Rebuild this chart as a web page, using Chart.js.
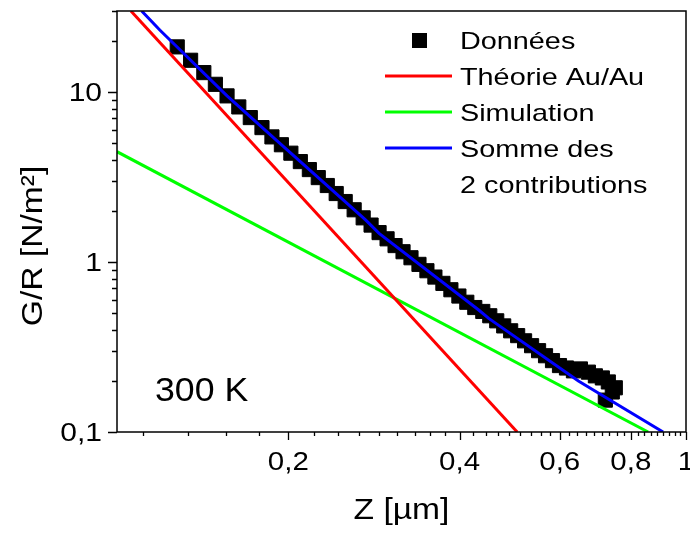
<!DOCTYPE html>
<html>
<head>
<meta charset="utf-8">
<script src="https://cdn.jsdelivr.net/npm/chart.js@4.4.1/dist/chart.umd.min.js"></script>
<style>
  html, body { margin: 0; padding: 0; background: #fff; overflow: hidden; }
  #wrap { width: 690px; height: 535px; position: relative; overflow: hidden; }
  #myChart { display: block; }
</style>
</head>
<body>
<div id="wrap"><canvas id="myChart"></canvas></div>
<script>
// Données (Z in µm, G/R in N/m²)
const zData = [0.1276, 0.1347, 0.1421, 0.1489, 0.1561, 0.1637, 0.1715, 0.1798, 0.1872, 0.1945,
  0.2021, 0.2100, 0.2178, 0.2258, 0.2342, 0.2428, 0.2518, 0.2611, 0.2708, 0.2796,
  0.2888, 0.2983, 0.3081, 0.3182, 0.3286, 0.3394, 0.3505, 0.3620, 0.3739, 0.3862,
  0.3989, 0.4119, 0.4254, 0.4394, 0.4520, 0.4649, 0.4782, 0.4919, 0.5060, 0.5204,
  0.5353, 0.5507, 0.5664, 0.5826, 0.5993, 0.6165, 0.6341, 0.6523, 0.6737, 0.6930,
  0.7128, 0.7303, 0.7512, 0.7215, 0.7421];
const grData = [18.45, 15.39, 13.02, 11.11, 9.50, 8.18, 7.08, 6.18, 5.45, 4.90,
  4.37, 3.90, 3.50, 3.14, 2.82, 2.53, 2.27, 2.03, 1.82, 1.65,
  1.49, 1.37, 1.25, 1.15, 1.06, 0.969, 0.889, 0.816, 0.749, 0.687,
  0.631, 0.580, 0.540, 0.512, 0.483, 0.451, 0.421, 0.394, 0.369, 0.344,
  0.322, 0.301, 0.281, 0.263, 0.246, 0.238, 0.229, 0.235, 0.225, 0.214,
  0.208, 0.197, 0.182, 0.154, 0.172];

// Théorie Au/Au
const theoryZ = [0.1058, 0.505];
const theoryG = [30, 0.1];

// Simulation
const simZ = [0.1, 0.858];
const simG = [4.46, 0.1];

// Somme des 2 contributions
const sumZ = [0.1105, 0.1189, 0.1561, 0.1905, 0.2737, 0.2888, 0.4322, 0.4501, 0.647, 0.9114];
const sumG = [30, 23.2, 9.5, 5.22, 1.766, 1.475, 0.522, 0.466, 0.1995, 0.1];

// tick labels
const xTickValues = [0.2, 0.4, 0.6, 0.8, 1];
const xTickLabels = ['0,2', '0,4', '0,6', '0,8', '1'];
const yTickValues = [0.1, 1, 10];
const yTickLabels = ['0,1', '1', '10'];

const legendLabels = ['Données', 'Théorie Au/Au', 'Simulation', 'Somme des', '2 contributions'];

const pts = (xs, ys) => xs.map((x, i) => ({ x, y: ys[i] }));
const FONT = '"Liberation Sans", Arial, sans-serif';

function txt(ctx, s, x, y, size, sx, align, rot) {
    ctx.save();
    ctx.font = size + 'px ' + FONT;
    ctx.fillStyle = '#000';
    ctx.textBaseline = 'alphabetic';
    ctx.textAlign = align;
    ctx.translate(x, y);
    if (rot) ctx.rotate(rot);
    ctx.scale(sx, 1);
    ctx.fillText(s, 0, 0);
    ctx.restore();
}

// frame, tick marks, labels, legend, titles
const decor = {
    id: 'decor',
    afterDraw(chart) {
        const ctx = chart.ctx;
        const a = chart.chartArea;
        const xs = chart.scales.x, ys = chart.scales.y;
        ctx.save();
        ctx.strokeStyle = '#000';
        ctx.lineWidth = 1.5;
        ctx.strokeRect(a.left, a.top, a.right - a.left, a.bottom - a.top);

        ctx.lineWidth = 1.3;
        ctx.beginPath();
        // x ticks: majors every 0.2, minors every 0.2/9
        for (let k = -4; k <= 36; k++) {
            const v = 0.2 + k * 0.2 / 9;
            const px = Math.round(xs.getPixelForValue(v)) + 0.5;
            const len = (k % 9 === 0) ? 8 : 4;
            ctx.moveTo(px, a.bottom);
            ctx.lineTo(px, a.bottom + len);
        }
        // y ticks: log decades with 2..9 minors
        [0.1, 1, 10].forEach(d => {
            for (let m = 1; m <= 9; m++) {
                const v = m * d;
                if (v > 30.001) break;
                const py = Math.round(ys.getPixelForValue(v)) + 0.5;
                const len = m === 1 ? 9 : 5;
                ctx.moveTo(a.left, py);
                ctx.lineTo(a.left - len, py);
            }
        });
        ctx.stroke();

        xTickValues.forEach((v, i) => {
            txt(ctx, xTickLabels[i], xs.getPixelForValue(v), 469.5, 25, 1.18, 'center');
        });
        yTickValues.forEach((v, i) => {
            txt(ctx, yTickLabels[i], 102, ys.getPixelForValue(v) + 8.5, 25, 1.2, 'right');
        });

        // axis titles
        txt(ctx, 'Z [µm]', (a.left + a.right) / 2, 519, 30, 1.12, 'center');
        txt(ctx, 'G/R [N/m²]', 42, 246, 30, 1.12, 'center', -Math.PI / 2);

        // annotation
        txt(ctx, '300 K', 155, 401, 34, 1.05, 'left');

        // legend
        ctx.fillStyle = '#000';
        ctx.fillRect(412, 33, 15, 15);
        const lineCols = ['#ff0000', '#00ff00', '#0000ff'];
        const lineY = [76, 112, 148];
        ctx.lineWidth = 3;
        lineCols.forEach((c, i) => {
            ctx.strokeStyle = c;
            ctx.beginPath();
            ctx.moveTo(385, lineY[i]);
            ctx.lineTo(452, lineY[i]);
            ctx.stroke();
        });
        legendLabels.forEach((s, i) => {
            txt(ctx, s, 460, 48.5 + i * 36, 24, 1.2, 'left');
        });
        ctx.restore();
    }
};

new Chart(document.getElementById('myChart'), {
    type: 'scatter',
    data: {
        datasets: [
            { label: 'Somme des 2 contributions', data: pts(sumZ, sumG), showLine: true, borderColor: '#0000ff', borderWidth: 3, pointRadius: 0, order: 0 },
            { label: 'Théorie Au/Au', data: pts(theoryZ, theoryG), showLine: true, borderColor: '#ff0000', borderWidth: 3, pointRadius: 0, order: 1 },
            { label: 'Simulation', data: pts(simZ, simG), showLine: true, borderColor: '#00ff00', borderWidth: 3, pointRadius: 0, order: 2 },
            { label: 'Données', data: pts(zData, grData), pointStyle: 'rect', pointRadius: 10, backgroundColor: '#000', borderColor: '#000', borderWidth: 1, order: 3 }
        ]
    },
    options: {
        responsive: true,
        maintainAspectRatio: false,
        animation: false,
        layout: { autoPadding: false, padding: { top: 11, right: 4, left: 0, bottom: 0 } },
        plugins: { legend: { display: false }, tooltip: { enabled: false } },
        scales: {
            x: {
                type: 'logarithmic', min: 0.1, max: 1,
                ticks: { display: false },
                grid: { display: false, drawTicks: false },
                border: { display: false },
                afterFit: s => { s.height = 103; }
            },
            y: {
                type: 'logarithmic', min: 0.1, max: 30,
                ticks: { display: false },
                grid: { display: false, drawTicks: false },
                border: { display: false },
                afterFit: s => { s.width = 117; }
            }
        }
    },
    plugins: [decor]
});
</script>
</body>
</html>
